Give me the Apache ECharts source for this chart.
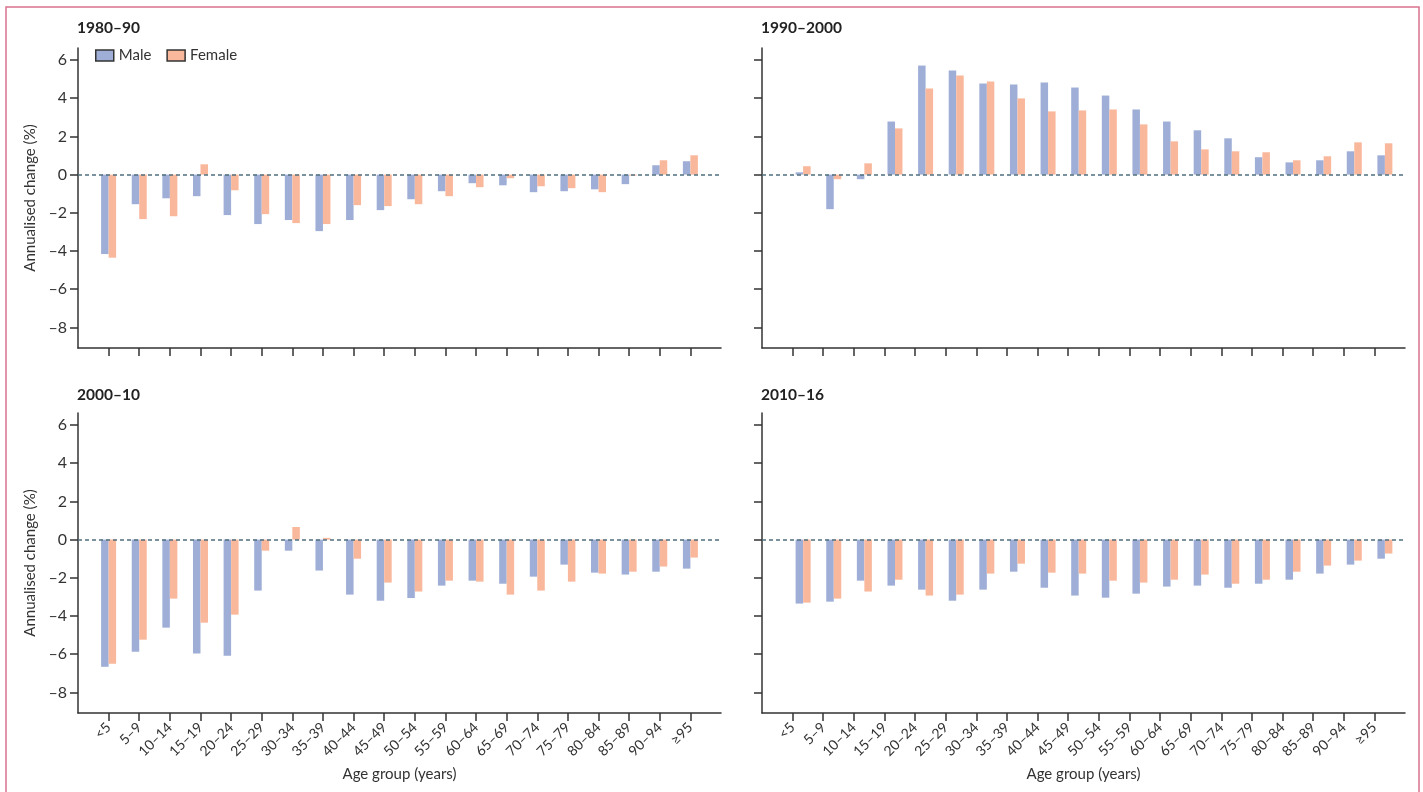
<!DOCTYPE html>
<html>
<head>
<meta charset="utf-8">
<script src="https://cdn.jsdelivr.net/npm/echarts@6/dist/echarts.min.js"></script>
<style>
html,body{margin:0;padding:0;background:#fff;}
#chart{width:1423px;height:792px;}
</style>
</head>
<body>
<div id="chart"></div>
<script>
const ageGroups = ['<5','5–9','10–14','15–19','20–24','25–29','30–34','35–39','40–44','45–49','50–54','55–59','60–64','65–69','70–74','75–79','80–84','85–89','90–94','≥95'];
const yTicks = [-8,-6,-4,-2,0,2,4,6];
const panelTitles = ['1980–90','1990–2000','2000–10','2010–16'];

const male1980 = [-4.16,-1.55,-1.24,-1.13,-2.12,-2.59,-2.38,-2.96,-2.38,-1.86,-1.29,-0.87,-0.45,-0.56,-0.92,-0.87,-0.77,-0.50,0.49,0.70];
const female1980 = [-4.35,-2.33,-2.18,0.54,-0.82,-2.07,-2.54,-2.59,-1.60,-1.65,-1.55,-1.13,-0.66,-0.19,-0.61,-0.71,-0.92,-0.05,0.75,1.01];
const male1990 = [0.12,-1.81,-0.24,2.78,5.71,5.45,4.77,4.72,4.82,4.56,4.14,3.41,2.78,2.32,1.90,0.91,0.64,0.75,1.22,1.01];
const female1990 = [0.44,-0.24,0.59,2.42,4.51,5.19,4.87,3.99,3.31,3.36,3.41,2.63,1.74,1.32,1.22,1.17,0.75,0.96,1.69,1.64];
const male2000 = [-6.66,-5.87,-4.61,-5.97,-6.08,-2.67,-0.58,-1.62,-2.88,-3.20,-3.06,-2.41,-2.15,-2.31,-1.94,-1.31,-1.73,-1.83,-1.68,-1.52];
const female2000 = [-6.50,-5.24,-3.09,-4.35,-3.93,-0.58,0.66,0.09,-1.00,-2.25,-2.72,-2.15,-2.20,-2.88,-2.67,-2.20,-1.78,-1.68,-1.41,-0.94];
const male2010 = [-3.35,-3.25,-2.15,-2.41,-2.62,-3.20,-2.62,-1.68,-2.52,-2.93,-3.04,-2.83,-2.46,-2.41,-2.52,-2.31,-2.10,-1.78,-1.31,-1.00];
const female2010 = [-3.30,-3.09,-2.72,-2.10,-2.93,-2.88,-1.78,-1.26,-1.73,-1.78,-2.15,-2.25,-2.10,-1.83,-2.31,-2.10,-1.68,-1.36,-1.10,-0.73];

const MALE = '#9eaed6';
const FEMALE = '#f9b79b';
const TXT = '#333333';
const FONT = 'Lato';
const YMIN = -9.08, YMAX = 6.63;

const cats = [' '].concat(ageGroups, ['  ']);
const pad = a => [null].concat(a, [null]);

const panels = [
  {title: panelTitles[0], male: male1980, female: female1980, left: 78, top: 48, titleTop: 20, yLabels: true, xLabels: false, shift: 0},
  {title: panelTitles[1], male: male1990, female: female1990, left: 762, top: 48, titleTop: 20, yLabels: false, xLabels: false, shift: 10.5},
  {title: panelTitles[2], male: male2000, female: female2000, left: 78, top: 413, titleTop: 387, yLabels: true, xLabels: true, shift: 0},
  {title: panelTitles[3], male: male2010, female: female2010, left: 762, top: 413, titleTop: 387, yLabels: false, xLabels: true, shift: 10.5}
];

const W = 643, H = 300;
const grid = [], xAxis = [], yAxis = [], series = [], title = [];
const axisLineStyle = {color: '#333', width: 1.5};
const zeroLine = {
  symbol: 'none', silent: true, label: {show: false},
  lineStyle: {type: [4, 3], color: '#4f6f7d', width: 1.5},
  data: [{yAxis: 0}]
};

panels.forEach((p) => {
  title.push({
    text: p.title, left: p.left - 1, top: p.titleTop, padding: 0,
    textStyle: {fontFamily: FONT, fontWeight: 'bold', fontSize: 15.5, color: '#222'}
  });
  const gi = grid.length;
  grid.push({left: p.left, top: p.top, width: W, height: H});
  xAxis.push({
    type: 'category', gridIndex: gi, data: cats, boundaryGap: false,
    axisLine: {show: true, lineStyle: axisLineStyle, onZero: false},
    axisTick: {show: true, length: 8, lineStyle: {color: '#333', width: 1.5},
      interval: (i) => i > 0 && i < cats.length - 1},
    axisLabel: {show: p.xLabels, rotate: 45, interval: 0, fontSize: 14, color: TXT, fontFamily: FONT, margin: 12},
    splitLine: {show: false},
    name: p.xLabels ? 'Age group (years)' : '', nameLocation: 'middle', nameGap: 54,
    nameTextStyle: {fontSize: 15, color: TXT, fontFamily: FONT}
  });
  yAxis.push({
    type: 'value', gridIndex: gi, min: YMIN, max: YMAX,
    axisLine: {show: true, lineStyle: axisLineStyle},
    axisTick: {show: true, length: 8, customValues: yTicks, lineStyle: {color: '#333', width: 1.5}},
    axisLabel: {show: p.yLabels, customValues: yTicks, fontSize: 16, color: TXT, fontFamily: FONT, margin: 11,
      formatter: v => String(v).replace('-', '–')},
    splitLine: {show: false},
    name: p.yLabels ? 'Annualised change (%)' : '', nameLocation: 'middle', nameGap: 40,
    nameTextStyle: {fontSize: 15, color: TXT, fontFamily: FONT}
  });
  let barAxis = gi;
  if (p.shift) {
    series.push({type: 'line', xAxisIndex: gi, yAxisIndex: gi, name: 'zero' + gi,
      data: cats.map(() => null), showSymbol: false, silent: true, markLine: zeroLine});
    barAxis = grid.length;
    grid.push({left: p.left + p.shift, top: p.top, width: W, height: H});
    xAxis.push({type: 'category', gridIndex: barAxis, data: cats, boundaryGap: false, show: false});
    yAxis.push({type: 'value', gridIndex: barAxis, min: YMIN, max: YMAX, show: false});
  }
  series.push({
    type: 'bar', name: 'Male', xAxisIndex: barAxis, yAxisIndex: barAxis,
    data: pad(p.male), barWidth: 7.5, barGap: '0%', itemStyle: {color: MALE},
    markLine: p.shift ? undefined : zeroLine
  });
  series.push({
    type: 'bar', name: 'Female', xAxisIndex: barAxis, yAxisIndex: barAxis,
    data: pad(p.female), barWidth: 7.5, barGap: '0%', itemStyle: {color: FEMALE}
  });
});

const chart = echarts.init(document.getElementById('chart'), null, {renderer: 'canvas'});
chart.setOption({
  backgroundColor: '#fff',
  animation: false,
  textStyle: {fontFamily: FONT},
  title: title,
  legend: {
    data: ['Male', 'Female'], left: 95, top: 48, padding: 0, itemWidth: 18, itemHeight: 11, itemGap: 15,
    icon: 'rect',
    itemStyle: {borderColor: '#333', borderWidth: 1.5},
    textStyle: {fontSize: 15, color: TXT, fontFamily: FONT}
  },
  grid: grid,
  xAxis: xAxis,
  yAxis: yAxis,
  series: series,
  graphic: [{
    type: 'rect', silent: true, z: 100,
    shape: {x: 6, y: 7, width: 1413, height: 820},
    style: {fill: 'none', stroke: '#d9718e', lineWidth: 1.5}
  }]
});
</script>
</body>
</html>
